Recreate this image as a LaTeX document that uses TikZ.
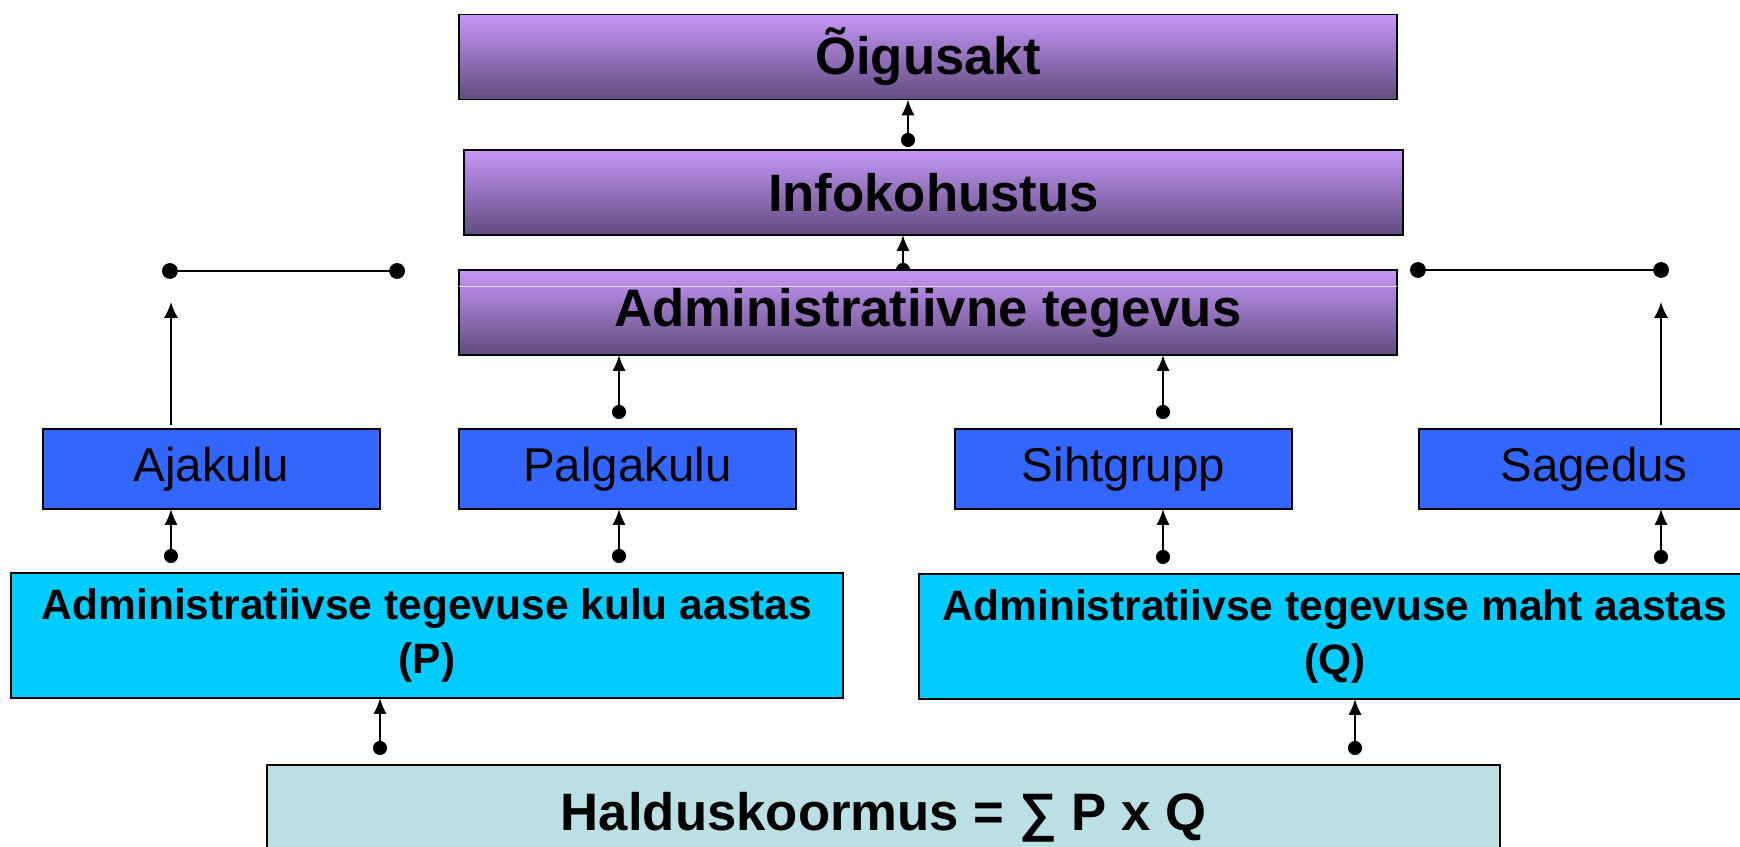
\documentclass[tikz,border=0pt]{standalone}
\usepackage{fontspec}
\setmainfont{Liberation Sans}
\usetikzlibrary{arrows.meta,backgrounds}

\definecolor{violetTop}{RGB}{198,150,248}
\definecolor{violetBot}{RGB}{96,76,126}
\definecolor{boxBlue}{RGB}{51,102,255}
\definecolor{boxCyan}{RGB}{0,204,255}
\definecolor{boxPale}{RGB}{187,224,227}

\tikzset{
  purplebox/.style={draw, line width=1.1pt, top color=violetTop, bottom color=violetBot,
    minimum width=18.76cm, minimum height=1.7cm, inner sep=0pt, outer sep=0pt,
    font=\fontsize{30}{36}\selectfont\bfseries},
  bluebox/.style={draw, line width=1.2pt, fill=boxBlue, minimum width=6.74cm,
    minimum height=1.6cm, inner sep=0pt, outer sep=0pt, font=\fontsize{27}{32}\selectfont},
  cyanbox/.style={draw, line width=1.1pt, fill=boxCyan, minimum width=16.64cm,
    minimum height=2.5cm, inner sep=0pt, outer sep=0pt, align=center,
    font=\fontsize{24.2}{31}\selectfont\bfseries},
  palebox/.style={draw, line width=1.1pt, fill=boxPale, minimum width=24.66cm,
    minimum height=2.1cm, inner sep=0pt, outer sep=0pt,
    font=\fontsize{30}{36}\selectfont\bfseries},
  conn/.style={{Circle[length=8pt]}-{Latex[length=9pt,width=7.5pt]}, line width=1.2pt,
    shorten <=0.2cm},
  uparrow/.style={-{Latex[length=9pt,width=8pt]}, line width=1.2pt, shorten <=0.08cm},
  dotline/.style={{Circle[length=9pt]}-{Circle[length=9pt]}, line width=1.2pt}
}

\begin{document}
\begin{tikzpicture}[x=0.02cm, y=-0.02cm]
\useasboundingbox (0,0) rectangle (1740,847);

% boxes
\node[purplebox] (oig) at (928,57) {Õigusakt};
\node[purplebox, minimum width=18.78cm] (info) at (933.5,192.5) {Infokohustus};
\node[purplebox] (admin) at (928,312.5) {Administratiivne tegevus};
\draw[white!60!violetTop, line width=0.5pt] ([yshift=-0.32cm]admin.north west) -- ([yshift=-0.32cm]admin.north east);

\node[bluebox] (aja) at (211.5,469) {Ajakulu};
\node[bluebox] (palga) at (627.5,469) {Palgakulu};
\node[bluebox] (siht) at (1123.5,469) {Sihtgrupp};
\node[bluebox, minimum width=7cm] (sag) at (1594,469) {Sagedus};

\node[cyanbox] (kulu) at (427,635.5) {Administratiivse tegevuse kulu aastas\\(P)};
\node[cyanbox] (maht) at (1335,636.5) {Administratiivse tegevuse maht aastas\\(Q)};

\node[palebox] (hald) at (883.5,817.5) {Halduskoormus = ∑ P x Q};

% connector columns
\coordinate (cOig) at (908,0);
\coordinate (cInfo) at (903,0);
\coordinate (cAja) at (171,0);
\coordinate (cPal) at (619,0);
\coordinate (cSiht) at (1163,0);
\coordinate (cSag) at (1661,0);
\coordinate (cP) at (380,0);
\coordinate (cQ) at (1355,0);

\draw[conn, shorten <=0.06cm] (info.north -| cOig) -- (oig.south -| cOig);
\begin{scope}[on background layer]
\draw[conn, shorten <=-0.14cm] (admin.north -| cInfo) -- (info.south -| cInfo);
\end{scope}
\draw[conn] (palga.north -| cPal) -- (admin.south -| cPal);
\draw[conn] (siht.north -| cSiht) -- (admin.south -| cSiht);

\draw[conn] (kulu.north -| cAja) -- (aja.south -| cAja);
\draw[conn] (kulu.north -| cPal) -- (palga.south -| cPal);
\draw[conn] (maht.north -| cSiht) -- (siht.south -| cSiht);
\draw[conn] (maht.north -| cSag) -- (sag.south -| cSag);

\draw[conn] (hald.north -| cP) -- (kulu.south -| cP);
\draw[conn] (hald.north -| cQ) -- (maht.south -| cQ);

% side branches
\coordinate (lTip) at (171,302);
\coordinate (lA) at (162,271);
\coordinate (lB) at (405,271);
\coordinate (rTip) at (1661,302);
\coordinate (rA) at (1410,270);
\coordinate (rB) at (1669,270);

\draw[uparrow] (aja.north -| cAja) -- (lTip);
\draw[dotline] (lA) -- (lB);
\draw[uparrow] (sag.north -| cSag) -- (rTip);
\draw[dotline] (rA) -- (rB);
\end{tikzpicture}
\end{document}
